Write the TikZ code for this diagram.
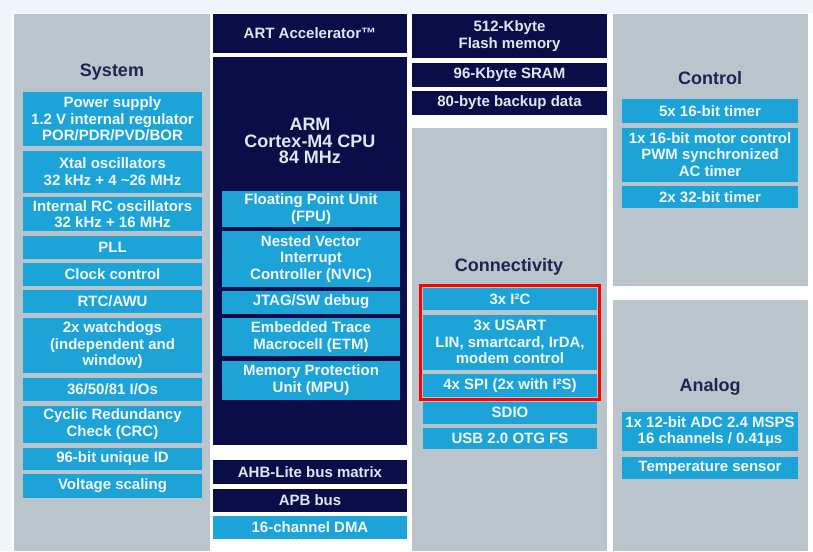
\documentclass[tikz,border=0pt]{standalone}
\usepackage{fontspec}
\setmainfont{Liberation Sans}
\usetikzlibrary{positioning,fit}
\definecolor{panelgray}{RGB}{185,196,203}
\definecolor{chipblue}{RGB}{28,163,216}
\definecolor{chipnavy}{RGB}{10,13,72}
\definecolor{titlenavy}{RGB}{28,37,84}
\definecolor{pagetint}{RGB}{239,245,251}
\definecolor{boxtext}{RGB}{242,247,251}
\definecolor{cputext}{RGB}{225,230,240}

\begin{document}
\begin{tikzpicture}[
    x=1pt, y=-1pt,
    node distance=4.5pt,
    every node/.style={font=\bfseries\fontsize{15}{16.5}\selectfont, align=center, inner sep=0pt, outer sep=0pt},
    panel/.style={rectangle, fill=panelgray, anchor=north west},
    title/.style={text=titlenavy, font=\bfseries\fontsize{18}{20}\selectfont},
    block/.style={rectangle, fill=chipblue, text=boxtext},
    dark/.style={rectangle, fill=chipnavy, text=cputext},
    sysbox/.style={block, minimum width=179pt},
    cpubox/.style={block, minimum width=178pt},
    conbox/.style={block, minimum width=174pt},
    ctlbox/.style={block, minimum width=176pt}
]
    \useasboundingbox (0,0) rectangle (813,551);
    \fill[pagetint] (0,0) rectangle (813,551);
    \fill[white] (12,13) rectangle (813,551);

    % panels
    \node[panel, minimum width=196pt, minimum height=537pt] (sysP) at (14,14) {};
    \node[panel, minimum width=195pt, minimum height=423pt] (conP) at (412,128) {};
    \node[panel, minimum width=195pt, minimum height=272pt] (ctlP) at (613,14) {};
    \node[panel, minimum width=195pt, minimum height=251pt] (anaP) at (613,300) {};

    \node[title] (sysT) at (112,72) {System};
    \node[title] (conT) at (509,267) {Connectivity};
    \node[title] (ctlT) at (710,78) {Control};
    \node[title] (anaT) at (710,387) {Analog};

    % system
    \node[sysbox, minimum height=54pt, anchor=north] (pwr) at (112.5,92) {Power supply\\1.2 V internal regulator\\POR/PDR/PVD/BOR};
    \node[sysbox, minimum height=42pt, below=of pwr] (xtal) {Xtal oscillators\\32 kHz + 4 \textasciitilde26 MHz};
    \node[sysbox, minimum height=34pt, below=of xtal] (rcosc) {Internal RC oscillators\\32 kHz + 16 MHz};
    \node[sysbox, minimum height=23pt, below=of rcosc] (pll) {PLL};
    \node[sysbox, minimum height=22.5pt, below=of pll] (clk) {Clock control};
    \node[sysbox, minimum height=23pt, below=of clk] (rtc) {RTC/AWU};
    \node[sysbox, minimum height=55.5pt, below=of rtc] (wdg) {2x watchdogs\\(independent and\\window)};
    \node[sysbox, minimum height=23.5pt, below=of wdg] (gpio) {36/50/81 I/Os};
    \node[sysbox, minimum height=37.5pt, below=of gpio] (crc) {Cyclic Redundancy\\Check (CRC)};
    \node[sysbox, minimum height=22pt, below=of crc] (uid) {96-bit unique ID};
    \node[sysbox, minimum height=24pt, below=of uid] (vscale) {Voltage scaling};

    % core
    \node[dark, minimum width=194pt, minimum height=39pt, anchor=north] (art) at (310,14) {ART Accelerator™};
    \node[dark, minimum width=194pt, minimum height=388pt, anchor=north] (cpu) at (310,57) {};
    \node[text=cputext, font=\bfseries\fontsize{18}{16.5}\selectfont] (cpuT) at (310,141) {ARM\\Cortex-M4 CPU\\84 MHz};
    \node[cpubox, minimum height=36pt, anchor=north] (fpu) at (311,191) {Floating Point Unit\\(FPU)};
    \node[cpubox, minimum height=56pt, below=4pt of fpu] (nvic) {Nested Vector\\Interrupt\\Controller (NVIC)};
    \node[cpubox, minimum height=23pt, below=3.5pt of nvic] (jtag) {JTAG/SW debug};
    \node[cpubox, minimum height=38pt, below=of jtag] (etm) {Embedded Trace\\Macrocell (ETM)};
    \node[cpubox, minimum height=39pt, below=of etm] (mpu) {Memory Protection\\Unit (MPU)};

    % buses
    \node[dark, minimum width=194pt, minimum height=24pt, anchor=north] (ahb) at (310,460) {AHB-Lite bus matrix};
    \node[dark, minimum width=194pt, minimum height=23pt, below=of ahb] (apb) {APB bus};
    \node[block, minimum width=194pt, minimum height=23pt, below=of apb] (dma) {16-channel DMA};

    % memories
    \node[dark, minimum width=195pt, minimum height=44pt, anchor=north] (flash) at (509.5,14) {512-Kbyte\\Flash memory};
    \node[dark, minimum width=195pt, minimum height=24pt, below=of flash] (sram) {96-Kbyte SRAM};
    \node[dark, minimum width=195pt, minimum height=24pt, below=of sram] (bkp) {80-byte backup data};

    % connectivity
    \node[conbox, minimum height=22pt, anchor=north] (i2c) at (510,288) {3x I²C};
    \node[conbox, minimum height=55pt, below=of i2c] (usart) {3x USART\\LIN, smartcard, IrDA,\\modem control};
    \node[conbox, minimum height=23pt, below=of usart] (spi) {4x SPI (2x with I²S)};
    \node[conbox, minimum height=22pt, below=of spi] (sdio) {SDIO};
    \node[conbox, minimum height=21pt, below=of sdio] (usb) {USB 2.0 OTG FS};
    \node[draw=red, line width=3.5pt, fit=(i2c)(spi), inner sep=2.5pt] (pick) {};

    % control
    \node[ctlbox, minimum height=24pt, anchor=north] (tim16) at (710,99) {5x 16-bit timer};
    \node[ctlbox, minimum height=54pt, below=of tim16] (pwm) {1x 16-bit motor control\\PWM synchronized\\AC timer};
    \node[ctlbox, minimum height=22pt, below=of pwm] (tim32) {2x 32-bit timer};

    % analog
    \node[ctlbox, minimum height=39pt, anchor=north] (adc) at (710,412) {1x 12-bit ADC 2.4 MSPS\\16 channels / 0.41µs};
    \node[ctlbox, minimum height=22pt, below=5.5pt of adc] (temp) {Temperature sensor};
\end{tikzpicture}
\end{document}
